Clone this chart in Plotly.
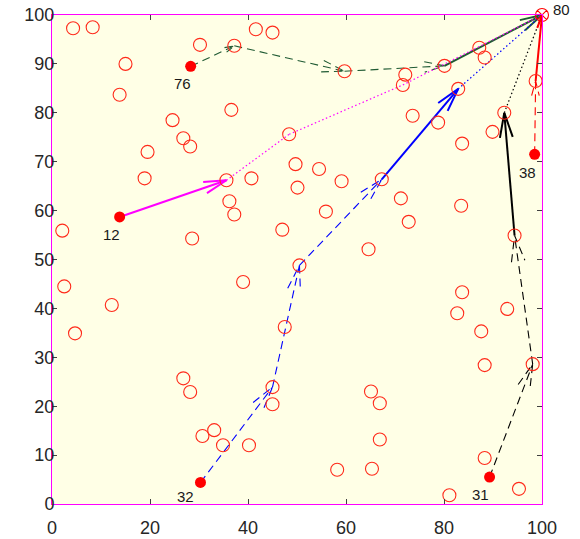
import math
import plotly.graph_objects as go

# ---------------- data ----------------
# free nodes (open circles)
node_x = [4.3, 8.3, 30.2, 37.2, 41.6, 45.0, 15.0, 13.8, 36.6, 24.6, 26.8, 28.2, 48.4,
          19.5, 18.9, 35.6, 40.7, 49.7, 50.1, 36.2, 37.2, 2.1, 28.6, 47.0, 50.5,
          87.2, 88.3, 59.7, 80.1, 72.1, 71.6, 82.9, 98.7, 92.3, 73.6, 78.8, 89.9, 83.7,
          54.5, 59.1, 67.3, 71.2, 83.5, 55.9, 72.8, 64.6, 94.4,
          2.5, 12.2, 4.7, 39.0, 47.5, 26.8, 28.2, 45.0, 45.0, 30.7, 33.1, 34.9, 40.2,
          83.7, 82.7, 92.9, 87.6, 88.3, 98.1, 65.1, 66.9, 66.9, 58.2, 65.3, 88.3, 81.1, 95.3]
node_y = [97.3, 97.5, 93.9, 93.7, 97.1, 96.4, 90.0, 83.7, 80.6, 78.5, 74.8, 73.1, 75.6,
          72.0, 66.6, 66.2, 66.6, 69.5, 64.7, 61.9, 59.2, 55.9, 54.3, 56.1, 48.8,
          93.3, 91.3, 88.5, 89.6, 87.8, 85.7, 84.9, 86.5, 80.0, 79.4, 78.0, 76.1, 73.7,
          68.5, 66.0, 66.4, 62.5, 61.0, 59.8, 57.7, 52.1, 54.9,
          44.5, 40.7, 34.9, 45.4, 36.2, 25.7, 22.9, 23.9, 20.4, 13.9, 15.1, 12.0, 12.0,
          43.3, 39.0, 39.9, 35.3, 28.4, 28.6, 23.0, 20.6, 13.2, 7.0, 7.2, 9.4, 1.8, 3.1]

# start nodes
start_labels = ["76", "12", "32", "31", "38"]
start_x = [28.3, 13.8, 30.3, 89.3, 98.5]
start_y = [89.5, 58.7, 4.4, 5.5, 71.5]

# goal node
goal_label = "80"
goal_x = [100.0]
goal_y = [100.0]

# paths (waypoints) and segment phases
path76_x = [28.3, 37.2, 59.7, 80.1, 100.0]
path76_y = [89.5, 93.7, 88.5, 89.6, 100.0]
path76_phase = ["past", "past", "past", "current"]

path12_x = [13.8, 35.6, 48.4, 71.6, 100.0]
path12_y = [58.7, 66.2, 75.6, 85.7, 100.0]
path12_phase = ["current", "plan", "plan", "plan"]

path32_x = [30.3, 45.0, 50.5, 67.3, 82.9, 100.0]
path32_y = [4.4, 23.9, 48.8, 66.4, 84.9, 100.0]
path32_phase = ["past", "past", "past", "current", "plan"]

path31_x = [89.3, 98.1, 94.4, 92.3, 100.0]
path31_y = [5.5, 28.6, 54.9, 80.0, 100.0]
path31_phase = ["past", "past", "current", "plan"]

path38_x = [98.5, 98.7, 100.0]
path38_y = [71.5, 86.5, 100.0]
path38_phase = ["past", "current"]

x_ticks = [0, 20, 40, 60, 80, 100]
y_ticks = [0, 10, 20, 30, 40, 50, 60, 70, 80, 90, 100]

# ---------------- styles ----------------
paths = [
    (path76_x, path76_y, path76_phase, "#1F5A33"),
    (path12_x, path12_y, path12_phase, "#FF00FF"),
    (path32_x, path32_y, path32_phase, "#0000FF"),
    (path31_x, path31_y, path31_phase, "#000000"),
    (path38_x, path38_y, path38_phase, "#FF0000"),
]
phase_style = {
    "past": dict(dash="8px,5px", width=1.1, arrow=True),
    "current": dict(dash="solid", width=2, arrow=True),
    "plan": dict(dash="1.5px,2.5px", width=1.2, arrow=False),
}


def head(x0, y0, x1, y1, frac=0.2, spread=0.26):
    dx, dy = x1 - x0, y1 - y0
    L = math.hypot(dx, dy)
    ux, uy = dx / L, dy / L
    h = frac * L
    bx, by = x1 - h * ux, y1 - h * uy
    nx, ny = -uy, ux
    return ([bx + spread * h * nx, x1, bx - spread * h * nx],
            [by + spread * h * ny, y1, by - spread * h * ny])


fig = go.Figure()

for px, py, phases, color in paths:
    for i, ph in enumerate(phases):
        st = phase_style[ph]
        fig.add_trace(go.Scatter(
            x=[px[i], px[i + 1]], y=[py[i], py[i + 1]], mode="lines",
            line=dict(color=color, width=st["width"], dash=st["dash"]),
            showlegend=False, hoverinfo="skip", cliponaxis=False))
        if st["arrow"]:
            hx, hy = head(px[i], py[i], px[i + 1], py[i + 1])
            fig.add_trace(go.Scatter(
                x=hx, y=hy, mode="lines",
                line=dict(color=color, width=st["width"], dash=st["dash"]),
                showlegend=False, hoverinfo="skip", cliponaxis=False))

fig.add_trace(go.Scatter(
    x=node_x, y=node_y, mode="markers",
    marker=dict(symbol="circle-open", size=13, color="#FF2A1A", line=dict(width=1.1)),
    showlegend=False, hoverinfo="skip"))

fig.add_trace(go.Scatter(
    x=start_x, y=start_y, mode="markers",
    marker=dict(symbol="circle", size=11, color="#FF0000"),
    showlegend=False, hoverinfo="skip"))

fig.add_trace(go.Scatter(
    x=goal_x, y=goal_y, mode="markers",
    marker=dict(symbol="circle-x-open", size=13, color="#FF0000", line=dict(width=1.1)),
    showlegend=False, hoverinfo="skip", cliponaxis=False))

label_font = dict(family="Liberation Sans, Arial, sans-serif", size=15, color="#1a1a1a")
label_shift = [(-8, -17), (-8, -18), (-15, -14), (-9, -17), (-7, -18)]
for lab, x, y, (sx, sy) in zip(start_labels, start_x, start_y, label_shift):
    fig.add_annotation(x=x, y=y, text=lab, showarrow=False, xshift=sx, yshift=sy,
                       font=label_font)
fig.add_annotation(x=goal_x[0], y=goal_y[0], text=goal_label, showarrow=False,
                   xshift=9, yshift=6, xanchor="left",
                   font=label_font)

axis_common = dict(
    range=[0, 100], showgrid=False, zeroline=False, showline=True,
    linecolor="#FF00FF", linewidth=1, mirror="ticks", automargin=False,
    ticks="inside", ticklen=5, tickcolor="#404040", tickwidth=1,
    tickfont=dict(family="Liberation Sans, Arial, sans-serif", size=18, color="#262626"),
)
fig.update_xaxes(tickvals=x_ticks, ticklabelstandoff=7, **axis_common)
fig.update_yaxes(tickvals=y_ticks, ticklabelstandoff=-7, **axis_common)

fig.update_layout(
    width=580, height=539,
    margin=dict(l=52, r=38, t=15, b=35),
    plot_bgcolor="#FFFFE6", paper_bgcolor="#FFFFFF",
)

fig.write_html("out.html")
